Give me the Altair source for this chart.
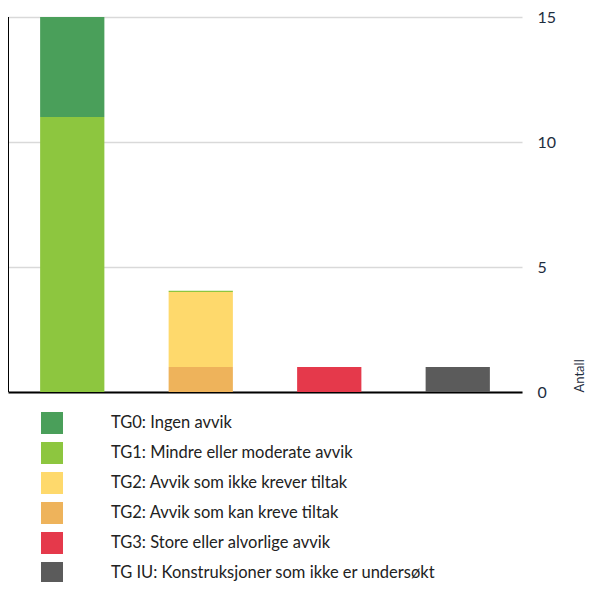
import altair as alt
import pandas as pd

groups = ["A", "B", "C", "D"]
series = [
    "TG0: Ingen avvik",
    "TG1: Mindre eller moderate avvik",
    "TG2: Avvik som ikke krever tiltak",
    "TG2: Avvik som kan kreve tiltak",
    "TG3: Store eller alvorlige avvik",
    "TG IU: Konstruksjoner som ikke er undersøkt",
]
colors = ["#4a9f5a", "#8dc63f", "#fed96c", "#eeb35b", "#e5394b", "#5b5b5b"]
# values per series, per group
tg0 = [4, 0, 0, 0]
tg1 = [11, 0.05, 0, 0]
tg2a = [0, 3, 0, 0]
tg2b = [0, 1, 0, 0]
tg3 = [0, 0, 1, 0]
tgiu = [0, 0, 0, 1]

vals = [tg0, tg1, tg2a, tg2b, tg3, tgiu]
rows = []
for si, (s, v) in enumerate(zip(series, vals)):
    for g, x in zip(groups, v):
        rows.append({"group": g, "serie": s, "value": x, "order": 5 - si})
df = pd.DataFrame(rows)

font = "Lato"

bars = alt.Chart(df).mark_bar().encode(
    x=alt.X("group:N", sort=groups,
            scale=alt.Scale(paddingInner=0.5, paddingOuter=0.25),
            axis=alt.Axis(labels=False, ticks=False, title=None,
                          domainColor="#000000", domainWidth=2, grid=False)),
    y=alt.Y("sum(value):Q",
            scale=alt.Scale(domain=[0, 15]),
            axis=alt.Axis(orient="right", values=[0, 5, 10, 15], ticks=False,
                          labelPadding=15, labelFontSize=16, labelColor="#1d2d3e",
                          labelFont=font, domain=False, gridColor="#d9d9d9",
                          gridWidth=1.5, title="Antall", titleFont=font,
                          titleFontSize=13, titleFontWeight="normal",
                          titleColor="#1d2d3e", titleAngle=270,
                          titleX=57, titleY=375, titleAlign="left",
                          titleBaseline="middle")),
    color=alt.Color("serie:N", sort=series,
                    scale=alt.Scale(domain=series, range=colors),
                    legend=alt.Legend(title=None, orient="none", legendX=33,
                                      legendY=395, direction="vertical",
                                      symbolType="square", symbolSize=484,
                                      symbolStrokeWidth=0, symbolOpacity=1,
                                      labelFont=font, labelFontSize=16.5,
                                      labelColor="#222222", labelOffset=48,
                                      rowPadding=8, labelLimit=500)),
    order=alt.Order("order:Q"),
)

left = alt.Chart(pd.DataFrame({"v": [0, 15]})).mark_rule(color="#000000", strokeWidth=2).encode(
    x=alt.value(0), y=alt.value(0), y2=alt.value(375)
)

chart = alt.layer(bars, left).properties(
    width=514, height=375,
    autosize=alt.AutoSizeParams(type="none"),
    padding={"left": 0, "top": 9, "right": 64, "bottom": 190},
).configure_view(stroke=None)

chart.save("out.html", embed_options={"renderer": "svg", "actions": False})
